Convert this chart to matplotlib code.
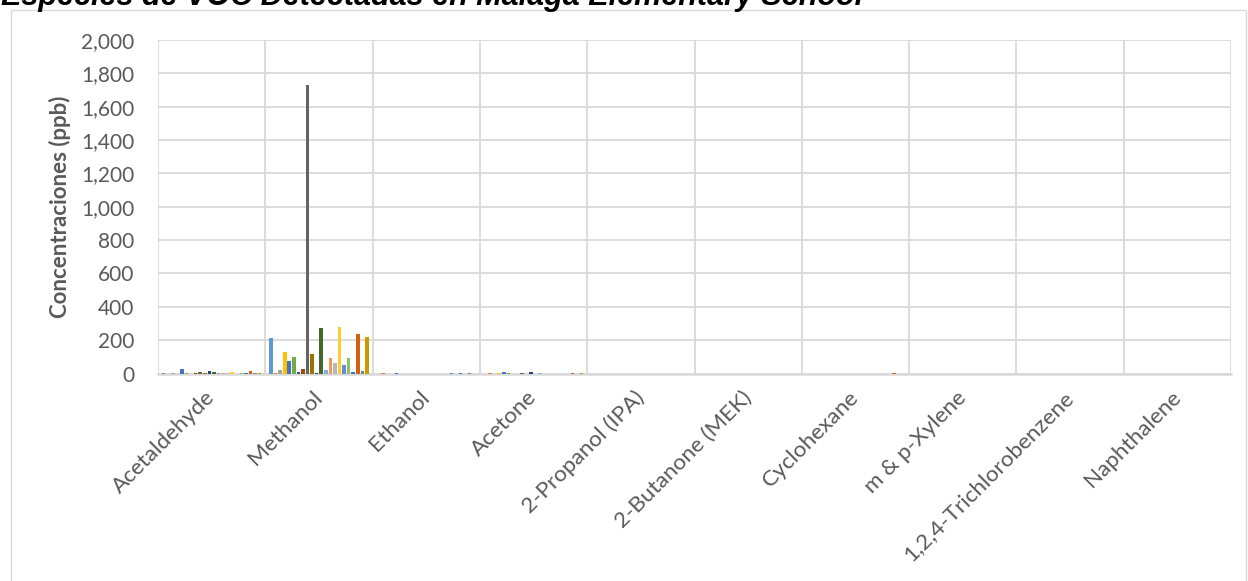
import numpy as np
import matplotlib
matplotlib.use('Agg')
import matplotlib.pyplot as plt
from matplotlib.patches import Rectangle
from matplotlib.ticker import FuncFormatter, MultipleLocator

plt.rcParams['font.family'] = ['Lato', 'DejaVu Sans']

compuestos = ['Acetaldehyde', 'Methanol', 'Ethanol', 'Acetone', '2-Propanol (IPA)',
              '2-Butanone (MEK)', 'Cyclohexane', 'm & p-Xylene',
              '1,2,4-Trichlorobenzene', 'Naphthalene']

# concentraciones en ppb, una entrada por muestra (22 muestras)
acetaldehyde = [2, 0, 1, 0, 27, 2, 0, 1, 10, 1, 14, 9, 1, 2, 1, 7, 0, 2, 1, 14, 1, 5]
methanol = [212, 3, 22, 130, 77, 97, 8, 24, 1730, 117, 3, 270, 22, 92, 64, 278, 50, 92, 11, 236, 14, 218]
ethanol = [0, 2, 0, 0, 1, 0, 0, 0, 0, 0, 0, 0, 0, 0, 0, 0, 1, 0, 1, 0, 1, 0]
acetone = [0, 2, 0, 1, 10, 1, 0, 0, 2, 0, 7, 0, 1, 0, 0, 0, 0, 0, 0, 2, 0, 1]
propanol = [0] * 22
butanone = [0] * 22
cyclohexane = [0, 0, 0, 0, 0, 0, 0, 0, 0, 0, 0, 0, 0, 0, 0, 0, 0, 0, 0, 2, 0, 0]
xylene = [0] * 22
triclorobenceno = [0] * 22
naphthalene = [0] * 22

datos = np.array([acetaldehyde, methanol, ethanol, acetone, propanol, butanone,
                  cyclohexane, xylene, triclorobenceno, naphthalene])

colores = ['#5B9BD5', '#ED7D31', '#A5A5A5', '#FFC000', '#4472C4', '#70AD47',
           '#255E91', '#9E480E', '#636363', '#997300', '#264478', '#43682B',
           '#7CAFDD', '#F1975A', '#B7B7B7', '#FFCD33', '#698ED0', '#8CC168',
           '#327DC2', '#D26012', '#848484', '#CC9A00']

W, H = 1248, 581
fig = plt.figure(figsize=(W / 100, H / 100), dpi=100)
ax = fig.add_axes([158 / W, 1 - 373.5 / H, (1231 - 158) / W, (373.5 - 40) / H])

n = datos.shape[1]
x = np.arange(len(compuestos))
ancho_grupo = 0.937
slot = ancho_grupo / n
for i in range(n):
    ax.bar(x - ancho_grupo / 2 + slot * (i + 0.5), datos[:, i], slot * 0.8,
           color=colores[i], zorder=3)

ax.set_xlim(-0.5, len(compuestos) - 0.5)
ax.set_ylim(0, 2000)
ax.yaxis.set_major_locator(MultipleLocator(200))
ax.yaxis.set_major_formatter(FuncFormatter(lambda v, p: f'{int(v):,}'))
ax.set_xticks(x)
ax.set_xticks(np.arange(-0.5, len(compuestos)), minor=True)
ax.set_xticklabels(compuestos, rotation=45, ha='right', va='center',
                   rotation_mode='anchor', fontsize=16.2, color='#595959')
ax.tick_params(axis='y', length=0, pad=17, labelsize=15, labelcolor='#595959')
ax.tick_params(axis='x', which='both', length=0, pad=15)

ax.grid(axis='y', color='#D9D9D9', linewidth=1.3, zorder=0)
ax.grid(axis='x', which='minor', color='#D9D9D9', linewidth=1.3, zorder=0)
ax.grid(axis='x', which='major', visible=False)
for s in ['top', 'right', 'left']:
    ax.spines[s].set_visible(False)
ax.spines['bottom'].set_color('#D9D9D9')
ax.spines['bottom'].set_linewidth(1.8)

ax.set_ylabel('Concentraciones (ppb)', fontsize=16, fontweight='bold', color='#595959')
ax.yaxis.set_label_coords((71 - 158) / (1231 - 158), 0.5)

fig.patches.append(Rectangle((11 / W, -0.01), (1246 - 11) / W, 1.01 - 10 / H,
                             transform=fig.transFigure, fill=False,
                             edgecolor='#D9D9D9', linewidth=1))
fig.text(1 / W, 1 - 5 / H, 'Especies de VOC Detectadas en Malaga Elementary School',
         family='Liberation Sans', fontsize=22, fontweight='bold', style='italic',
         va='baseline', ha='left')

fig.savefig('out.png', dpi=100)
